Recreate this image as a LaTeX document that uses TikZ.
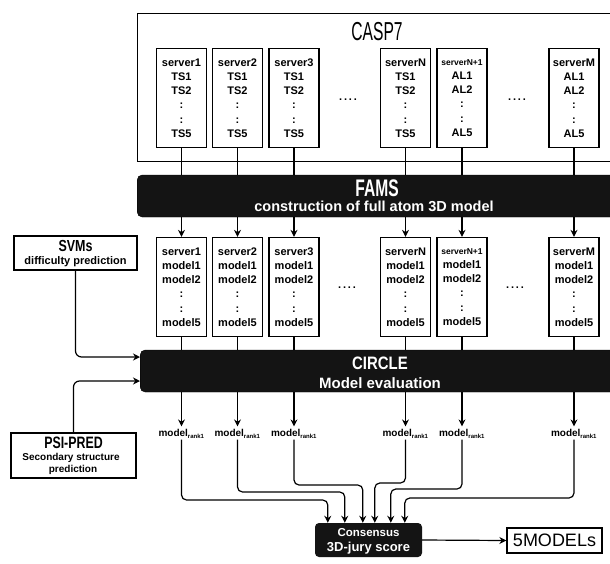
\documentclass[tikz,border=0pt]{standalone}
\usepackage{fontspec}
\setmainfont{Liberation Sans}
\usepackage{graphicx}
\usetikzlibrary{arrows.meta}
\tikzset{
  ln/.style={line width=1.2pt},
  arr/.style={ln, -{Stealth[length=7pt,width=7pt]}},
  srv/.style={draw, line width=1.3pt, minimum width=50pt, minimum height=99pt,
    inner sep=0pt, align=center, font=\bfseries\fontsize{11}{14.2}\selectfont},
  bar/.style={fill=black!92, draw=black, rounded corners=5pt, minimum width=480pt,
    minimum height=42pt, inner sep=0pt, anchor=west},
  wbox/.style={draw, line width=1.3pt, inner sep=0pt, align=center},
  lab/.style={font=\bfseries\fontsize{10}{10}\selectfont, inner sep=1pt},
  wtxt/.style={text=white, inner sep=0pt, font=\bfseries},
  dots/.style={font=\bfseries\fontsize{11}{11}\selectfont, inner sep=0pt}
}
\newcommand{\rk}{model\textsubscript{\fontsize{6}{6}\selectfont rank1}}
\begin{document}
\begin{tikzpicture}[x=1pt,y=-1pt]
\useasboundingbox (0,0) rectangle (610,563);
\fill[white] (0,0) rectangle (610,563);

% CASP7 frame
\node[draw, line width=1.3pt, minimum width=483pt, minimum height=148pt,
  anchor=north west, inner sep=0pt] (casp) at (137,13) {};
\node[inner sep=0pt] (casplab) at (377,32)
  {\scalebox{0.6}[1]{\fontsize{26}{26}\selectfont CASP7}};

% top row
\node[srv] (t1) at (181.5,98) {server1\\TS1\\TS2\\:\\:\\TS5};
\node[srv] (t2) at (237.5,98) {server2\\TS1\\TS2\\:\\:\\TS5};
\node[srv] (t3) at (294,98) {server3\\TS1\\TS2\\:\\:\\TS5};
\node[srv] (t4) at (405.5,98) {serverN\\TS1\\TS2\\:\\:\\TS5};
\node[srv] (t5) at (462,98) {{\fontsize{8.5}{8.5}\selectfont serverN+1}\\AL1\\AL2\\:\\:\\AL5};
\node[srv] (t6) at (574,98) {serverM\\AL1\\AL2\\:\\:\\AL5};
\node[dots] (td1) at (348,100) {.\,.\,.\,.};
\node[dots] (td2) at (517,100) {.\,.\,.\,.};

% FAMS bar
\node[bar] (fams) at (137,196) {};
\node[wtxt] (famst) at (377,188)
  {\scalebox{0.65}[1]{\fontsize{24}{24}\selectfont FAMS}};
\node[wtxt] (famss) at (374,206)
  {\fontsize{14.5}{14.5}\selectfont construction of full atom 3D model};

% second row
\node[srv] (m1) at (181.5,287) {server1\\model1\\model2\\:\\:\\model5};
\node[srv] (m2) at (237.5,287) {server2\\model1\\model2\\:\\:\\model5};
\node[srv] (m3) at (294,287) {server3\\model1\\model2\\:\\:\\model5};
\node[srv] (m4) at (405.5,287) {serverN\\model1\\model2\\:\\:\\model5};
\node[srv] (m5) at (462,287) {{\fontsize{8.5}{8.5}\selectfont serverN+1}\\model1\\model2\\:\\:\\model5};
\node[srv] (m6) at (574,287) {serverM\\model1\\model2\\:\\:\\model5};
\node[dots] (md1) at (347,288) {.\,.\,.\,.};
\node[dots] (md2) at (515,288) {.\,.\,.\,.};

% CIRCLE bar
\node[bar] (circ) at (140,371) {};
\node[wtxt] (circt) at (380,363)
  {\scalebox{0.83}[1]{\fontsize{18}{18}\selectfont CIRCLE}};
\node[wtxt] (circs) at (380,383)
  {\fontsize{15}{15}\selectfont Model evaluation};

% side boxes
\node[wbox, minimum width=123pt, minimum height=34pt] (svm) at (75.5,253) {};
\node[inner sep=0pt] (svmt) at (75.5,246)
  {\bfseries\scalebox{0.78}[1]{\fontsize{16}{16}\selectfont SVMs}};
\node[inner sep=0pt] (svms) at (75.5,262)
  {\bfseries\fontsize{11}{11}\selectfont difficulty prediction};

\node[wbox, minimum width=125pt, minimum height=45pt] (psi) at (73.5,455.5) {};
\node[inner sep=0pt] (psit) at (73.5,443)
  {\bfseries\scalebox{0.75}[1]{\fontsize{16.5}{16.5}\selectfont PSI-PRED}};
\node[inner sep=0pt] (psis) at (71,458)
  {\bfseries\fontsize{10}{10}\selectfont Secondary structure};
\node[inner sep=0pt] (psip) at (73,470)
  {\bfseries\fontsize{10}{10}\selectfont prediction};

% rank labels
\node[lab] (r1) at (181.5,434) {\rk};
\node[lab] (r2) at (237.5,434) {\rk};
\node[lab] (r3) at (294,434) {\rk};
\node[lab] (r4) at (405.5,434) {\rk};
\node[lab] (r5) at (462,434) {\rk};
\node[lab] (r6) at (574,434) {\rk};

% consensus and output
\node[fill=black!92, rounded corners=4pt, minimum width=107pt, minimum height=34pt,
  inner sep=0pt] (cons) at (368.5,540) {};
\node[wtxt] (const) at (368.5,533)
  {\fontsize{11.5}{11.5}\selectfont Consensus};
\node[wtxt] (conss) at (368.5,548)
  {\fontsize{13}{13}\selectfont 3D-jury score};
\node[wbox, minimum width=95pt, minimum height=25pt] (five) at (554.5,540.5)
  {\fontsize{18}{18}\selectfont 5MODELs};

% connectors
\foreach \i in {1,...,6}{
  \draw[ln] (t\i.south) -- (t\i.south |- fams.north);
  \draw[arr] (t\i.south |- fams.south) -- (m\i.north);
  \draw[ln] (m\i.south) -- (m\i.south |- circ.north);
  \draw[arr, shorten >=2pt] (m\i.south |- circ.south) -- (r\i.north);
}
\draw[arr, rounded corners=6pt] (svm.south) |- ([yshift=14pt]circ.west);
\draw[arr, rounded corners=6pt] (psi.north) |- ([yshift=-10pt]circ.west);

\draw[arr, rounded corners=5pt] (r1.south) -- (r1.south |- 0,500) -| ([xshift=13pt]cons.north west);
\draw[arr, rounded corners=5pt] (r2.south) -- (r2.south |- 0,492) -| ([xshift=30pt]cons.north west);
\draw[arr, rounded corners=5pt] (r3.south) -- (r3.south |- 0,485) -| ([xshift=48pt]cons.north west);
\draw[arr, rounded corners=5pt] (r4.south) -- (r4.south |- 0,483) -| ([xshift=60pt]cons.north west);
\draw[arr, rounded corners=5pt] (r5.south) -- (r5.south |- 0,489) -| ([xshift=76pt]cons.north west);
\draw[arr, rounded corners=5pt] (r6.south) -- (r6.south |- 0,498) -| ([xshift=90pt]cons.north west);

\draw[arr] (cons.east) -- (five.west);
\end{tikzpicture}
\end{document}
